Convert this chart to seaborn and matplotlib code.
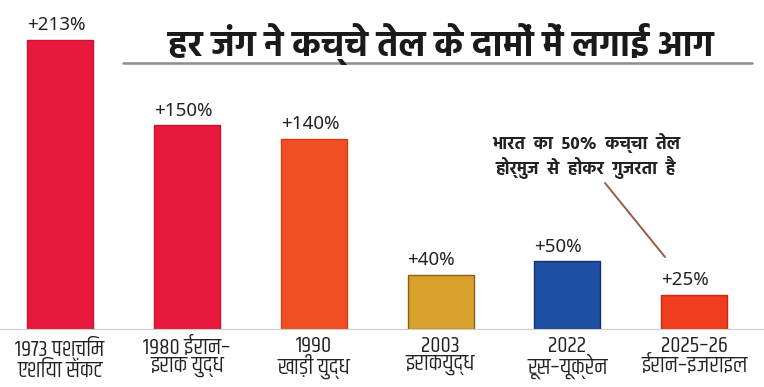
import matplotlib
matplotlib.use("Agg")
import matplotlib.pyplot as plt
import seaborn as sns

# data
wars = ["1973 पश्चिम\nएशिया संकट", "1980 ईरान–\nइराक युद्ध", "1990\nखाड़ी युद्ध",
        "2003\nइराकयुद्ध", "2022\nरूस–यूक्रेन", "2025–26\nईरान–इजराइल"]
price_rise = [213, 150, 140, 40, 50, 25]
rise_labels = ["+213%", "+150%", "+140%", "+40%", "+50%", "+25%"]
bar_colors = ["#E8193C", "#E8193C", "#F04E23", "#D7A12B", "#1E4FA2", "#F03C1F"]
edge_colors = ["#C9142F", "#C9142F", "#D23E18", "#8A6010", "#142F6B", "#C92A12"]

title = "हर जंग ने कच्चे तेल के दामों में लगाई आग"
note = "भारत  का  50%  कच्चा  तेल\nहोर्मुज  से  होकर  गुजरता  है"

sns.set_style("white")
plt.rcParams["font.family"] = ["Noto Sans", "Hind", "DejaVu Sans"]
label_font = ["Khand", "Hind", "DejaVu Sans"]
head_font = ["Hind", "DejaVu Sans"]

fig = plt.figure(figsize=(7.64, 3.87), dpi=100)
ax = fig.add_axes([0, 0.150, 1, 0.850])

sns.barplot(x=wars, y=price_rise, hue=wars, palette=bar_colors, legend=False,
            width=0.52, saturation=1, ax=ax)
for bar, edge in zip(ax.patches, edge_colors):
    bar.set_edgecolor(edge)
    bar.set_linewidth(1)

for bar, lab in zip(ax.patches, rise_labels):
    ax.annotate(lab, (bar.get_x(), bar.get_height()), xytext=(0, 4),
                textcoords="offset points", ha="left", va="bottom",
                fontsize=13.5, color="#222222")

ax.set_xlim(-0.473, 5.55)
ax.set_ylim(0, 242.4)
ax.set_yticks([])
ax.set_xlabel("")
ax.set_ylabel("")
for side in ["top", "left", "right"]:
    ax.spines[side].set_visible(False)
ax.spines["bottom"].set_color("#D0D0D0")
ax.tick_params(axis="x", length=2, color="#888888", labelsize=16.5,
               labelcolor="#222222", pad=3)
for t in ax.get_xticklabels():
    t.set_fontfamily(label_font)
    t.set_linespacing(0.95)

# headline with grey rule underneath
fig.text(0.577, 0.886, title, ha="center", va="center", fontsize=25.5,
         fontweight="bold", color="#1A1A1A", family=head_font)
fig.add_artist(plt.Line2D([123 / 764, 752 / 764], [1 - 63 / 387] * 2,
                          color="#8C8C8C", lw=1.8))

# Hormuz note with leader line
fig.text(586 / 764, 1 - 156 / 387, note, ha="center", va="center", fontsize=12.5,
         fontweight="bold", color="#222222", linespacing=1.15, family=head_font)
fig.add_artist(plt.Line2D([605 / 764, 665 / 764], [1 - 183 / 387, 1 - 257 / 387],
                          color="#9A5A48", lw=1.4))

fig.savefig("out.png", dpi=100)
